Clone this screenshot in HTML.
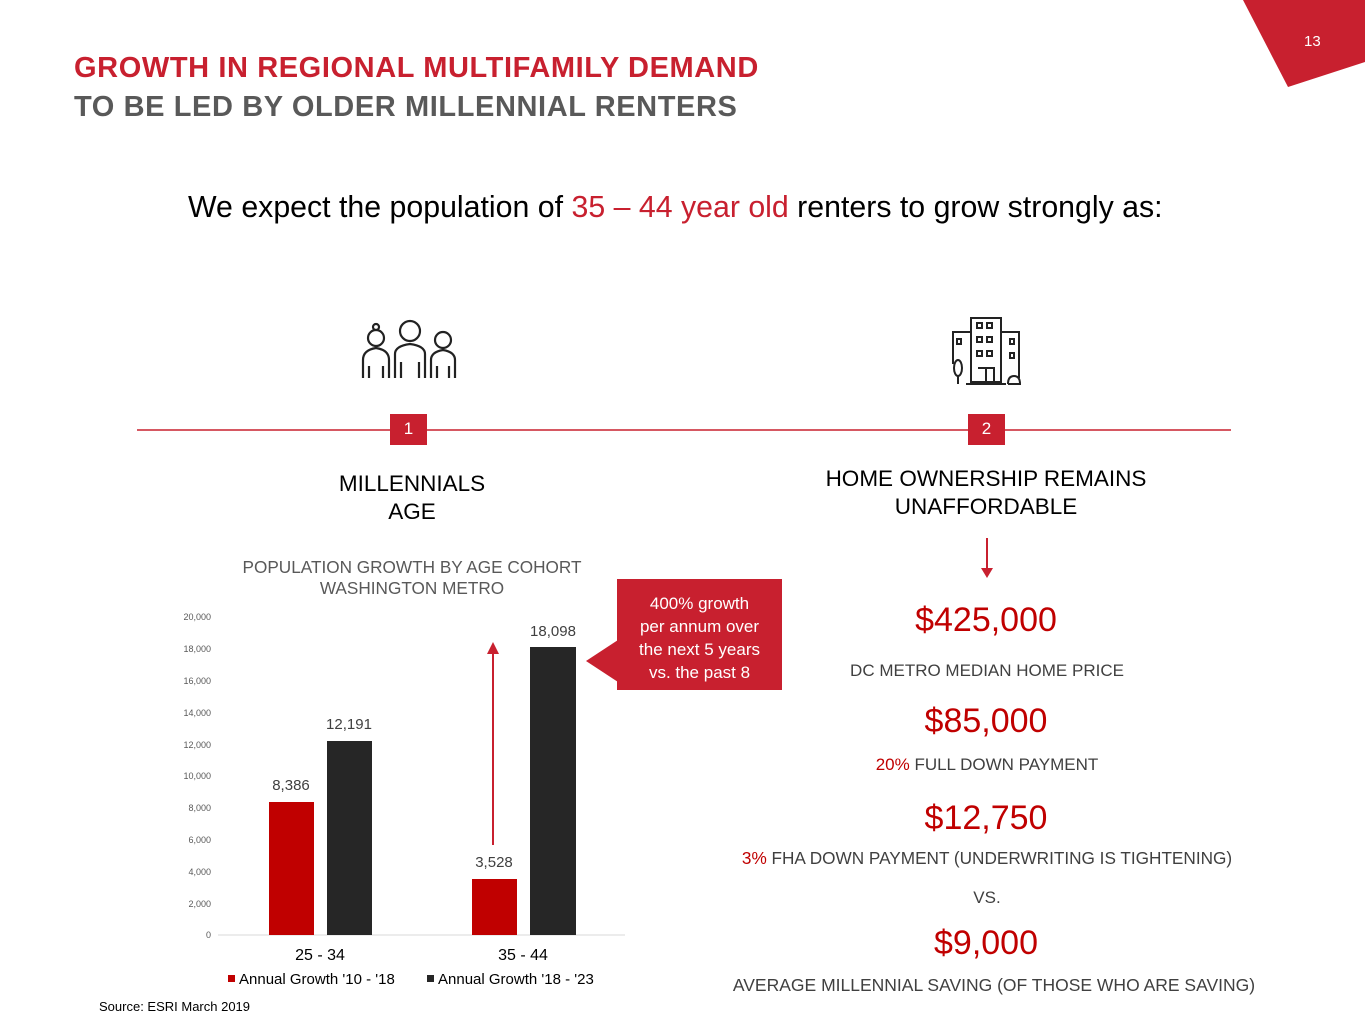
<!DOCTYPE html>
<html><head><meta charset="utf-8"><style>
*{margin:0;padding:0}
body{width:1365px;height:1024px;position:relative;background:#fff;font-family:"Liberation Sans",sans-serif;overflow:hidden}
.a{position:absolute;white-space:nowrap}
.c{text-align:center}
.red{color:#c00000}
</style></head><body>
<svg class="a" style="left:0;top:0" width="1365" height="1024">
<polygon points="1243,0 1365,0 1365,62 1288,87" fill="#c8202f"/>
<line x1="137" y1="430" x2="1231" y2="430" stroke="#c8202f" stroke-width="1.5"/>
<rect x="390" y="414" width="37" height="31" fill="#c8202f"/>
<rect x="968" y="414" width="37" height="31" fill="#c8202f"/>
<line x1="987" y1="538" x2="987" y2="570" stroke="#c8202f" stroke-width="2"/>
<polygon points="981,568 993,568 987,578" fill="#c8202f"/>
<line x1="218" y1="935" x2="625" y2="935" stroke="#d9d9d9"/>
<rect x="269" y="802" width="45" height="133" fill="#c00000"/>
<rect x="327" y="741" width="45" height="194" fill="#262626"/>
<rect x="472" y="879" width="45" height="56" fill="#c00000"/>
<rect x="530" y="647" width="46" height="288" fill="#262626"/>
<line x1="493" y1="845" x2="493" y2="652" stroke="#c8202f" stroke-width="2"/>
<polygon points="487,654 499,654 493,642" fill="#c8202f"/>
<rect x="617" y="579" width="165" height="111" fill="#c8202f"/>
<polygon points="586,661 618,640 618,682" fill="#c8202f"/>
<rect x="228" y="975" width="7" height="7" fill="#c00000"/>
<rect x="427" y="975" width="7" height="7" fill="#262626"/>
<g fill="none" stroke="#222" stroke-width="2.2">
<circle cx="376" cy="338" r="8"/><circle cx="376" cy="327" r="3"/>
<path d="M363,378 v-18 q0,-10 13,-12 q13,2 13,12 v18 M369,378v-12 M383,378v-12"/>
<circle cx="410" cy="331" r="10"/>
<path d="M395,378 v-24 q0,-8 15,-10 q15,2 15,10 v24 M401,378v-16 M419,378v-16"/>
<circle cx="443" cy="340" r="8"/>
<path d="M431,378 v-18 q0,-8 12,-10 q12,2 12,10 v18 M437,378v-12 M449,378v-12"/>
</g>
<g fill="none" stroke="#222" stroke-width="2">
<rect x="971" y="318" width="30" height="64"/>
<path d="M971,332h-18v32 M1001,332h18v46"/>
<path d="M978,368h16v14 M986,368v14"/>
<ellipse cx="958" cy="368" rx="4" ry="8"/><path d="M958,376v8"/>
<path d="M966,384h40 M1008,384h12 q0,-8 -6,-8 q-6,0 -6,8"/>
<rect x="977" y="323" width="5" height="5"/><rect x="987" y="323" width="5" height="5"/>
<rect x="977" y="337" width="5" height="5"/><rect x="987" y="337" width="5" height="5"/>
<rect x="977" y="351" width="5" height="5"/><rect x="987" y="351" width="5" height="5"/>
<rect x="957" y="339" width="4" height="5"/><rect x="1010" y="339" width="4" height="5"/>
<rect x="1010" y="353" width="4" height="5"/>
</g>
</svg>
<div class="a" style="left:1304px;top:33px;font-size:15px;color:#fff">13</div>
<div class="a" style="left:74px;top:52px;font-size:29px;font-weight:bold;color:#c8202f;letter-spacing:0.6px">GROWTH IN REGIONAL MULTIFAMILY DEMAND</div>
<div class="a" style="left:74px;top:91px;font-size:29px;font-weight:bold;color:#595959;letter-spacing:0.6px">TO BE LED BY OLDER MILLENNIAL RENTERS</div>
<div class="a" style="left:188px;top:191px;font-size:30.3px;color:#000">We expect the population of <span style="color:#c8202f">35 – 44 year old</span> renters to grow strongly as:</div>
<div class="a c" style="left:390px;top:419px;width:37px;font-size:17px;color:#fff">1</div>
<div class="a c" style="left:968px;top:419px;width:37px;font-size:17px;color:#fff">2</div>
<div class="a c" style="left:212px;top:470px;width:400px;font-size:22.5px;line-height:28px;color:#000">MILLENNIALS<br>AGE</div>
<div class="a c" style="left:736px;top:465px;width:500px;font-size:22.5px;line-height:28px;color:#000">HOME OWNERSHIP REMAINS<br>UNAFFORDABLE</div>
<div class="a c" style="left:212px;top:557px;width:400px;font-size:17.2px;line-height:21px;color:#595959">POPULATION GROWTH BY AGE COHORT<br>WASHINGTON METRO</div>
<div class="a" style="left:150px;top:612px;width:61px;text-align:right;font-size:9px;color:#595959;line-height:10px">
<div style="position:absolute;right:0;top:0">20,000</div><div style="position:absolute;right:0;top:32px">18,000</div><div style="position:absolute;right:0;top:64px">16,000</div><div style="position:absolute;right:0;top:96px">14,000</div><div style="position:absolute;right:0;top:128px">12,000</div><div style="position:absolute;right:0;top:159px">10,000</div><div style="position:absolute;right:0;top:191px">8,000</div><div style="position:absolute;right:0;top:223px">6,000</div><div style="position:absolute;right:0;top:255px">4,000</div><div style="position:absolute;right:0;top:287px">2,000</div><div style="position:absolute;right:0;top:318px">0</div></div>
<div class="a c" style="left:251px;top:777px;width:80px;font-size:15px;color:#404040">8,386</div>
<div class="a c" style="left:309px;top:716px;width:80px;font-size:15px;color:#404040">12,191</div>
<div class="a c" style="left:454px;top:854px;width:80px;font-size:15px;color:#404040">3,528</div>
<div class="a c" style="left:513px;top:623px;width:80px;font-size:15px;color:#404040">18,098</div>
<div class="a c" style="left:270px;top:947px;width:100px;font-size:16px;color:#000">25 - 34</div>
<div class="a c" style="left:473px;top:947px;width:100px;font-size:16px;color:#000">35 - 44</div>
<div class="a" style="left:239px;top:971px;font-size:15px;color:#000">Annual Growth '10 - '18</div>
<div class="a" style="left:438px;top:971px;font-size:15px;color:#000">Annual Growth '18 - '23</div>
<div class="a c" style="left:617px;top:592px;width:165px;font-size:17px;line-height:23px;color:#fff">400% growth<br>per annum over<br>the next 5 years<br>vs. the past 8</div>
<div class="a" style="left:99px;top:999px;font-size:13px;color:#000">Source: ESRI March 2019</div>
<div class="a c red" style="left:836px;top:601px;width:300px;font-size:34px">$425,000</div>
<div class="a c" style="left:737px;top:661px;width:500px;font-size:17px;color:#404040">DC METRO MEDIAN HOME PRICE</div>
<div class="a c red" style="left:836px;top:702px;width:300px;font-size:34px">$85,000</div>
<div class="a c" style="left:737px;top:755px;width:500px;font-size:17px;color:#404040"><span class="red">20%</span> FULL DOWN PAYMENT</div>
<div class="a c red" style="left:836px;top:799px;width:300px;font-size:34px">$12,750</div>
<div class="a c" style="left:687px;top:848px;width:600px;font-size:17.2px;color:#404040"><span class="red">3%</span> FHA DOWN PAYMENT (UNDERWRITING IS TIGHTENING)</div>
<div class="a c" style="left:887px;top:888px;width:200px;font-size:17px;color:#404040">VS.</div>
<div class="a c red" style="left:836px;top:924px;width:300px;font-size:34px">$9,000</div>
<div class="a c" style="left:694px;top:975px;width:600px;font-size:17.5px;color:#404040">AVERAGE MILLENNIAL SAVING (OF THOSE WHO ARE SAVING)</div>
</body></html>
